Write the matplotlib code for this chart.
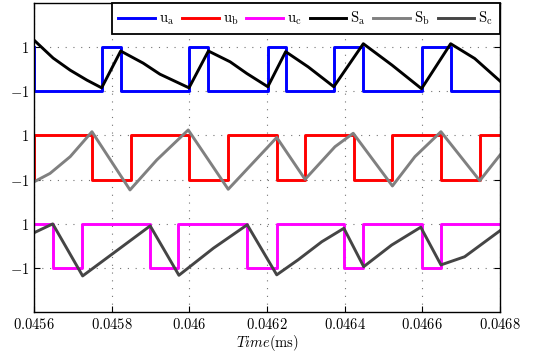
import numpy as np
import matplotlib
matplotlib.use('Agg')
import matplotlib.pyplot as plt
from matplotlib.ticker import MultipleLocator, FuncFormatter

plt.rcParams['font.size'] = 10
plt.rcParams['mathtext.fontset'] = 'cm'
plt.rcParams['font.family'] = 'serif'

t_start, t_end = 0.0456, 0.0468

# switching instants (ms) of the square waves and their starting level
ua_start = 1
ua_edges = [0.0456, 0.045774, 0.045823, 0.045999, 0.046048, 0.046202,
            0.046248, 0.046372, 0.046448, 0.046598, 0.046673]
ub_start = -1
ub_edges = [0.0456, 0.045749, 0.045849, 0.045999, 0.046099, 0.046225,
            0.046298, 0.046424, 0.046523, 0.046648, 0.046748]
uc_start = 1
uc_edges = [0.045648, 0.045723, 0.045899, 0.045971, 0.046149, 0.046225,
            0.046398, 0.046448, 0.046598, 0.046648]

# S signals
sa_t = [0.0456, 0.045649, 0.045693, 0.045736, 0.045774, 0.045823, 0.045881,
        0.045924, 0.045999, 0.046049, 0.046105, 0.046148, 0.046202, 0.046248,
        0.046306, 0.046372, 0.046448, 0.046522, 0.046598, 0.046673, 0.046735,
        0.0468]
sa_v = [1.32, 0.51, -0.04, -0.49, -0.84, 0.83, 0.28, -0.22, -0.84, 0.83, 0.34,
        -0.19, -0.79, 0.80, 0.11, -0.79, 1.16, 0.19, -0.88, 1.16, 0.49, -0.53]

sb_t = [0.0456, 0.045641, 0.045693, 0.045749, 0.045847, 0.045916, 0.045997,
        0.046100, 0.046207, 0.046225, 0.046298, 0.046375, 0.046422, 0.046523,
        0.046581, 0.046648, 0.046748, 0.0468]
sb_v = [-1.10, -0.72, 0.04, 1.17, -1.47, -0.11, 1.25, -1.44, 0.57, 0.91,
        -0.99, 0.49, 1.10, -1.29, 0.04, 1.17, -1.05, 0.11]

sc_t = [0.0456, 0.045648, 0.045725, 0.045804, 0.045899, 0.045973, 0.046062,
        0.046149, 0.046225, 0.046280, 0.046341, 0.046398, 0.046449, 0.046521,
        0.046596, 0.046648, 0.046709, 0.0468]
sc_v = [0.59, 0.99, -1.37, -0.34, 0.90, -1.34, -0.11, 0.95, -1.32, -0.64,
        0.18, 0.79, -0.95, 0.03, 0.84, -0.87, -0.50, 0.68]

offsets = {'a': 4, 'b': 0, 'c': -4}


def square(start, edges):
    t = np.r_[t_start, edges, t_end]
    lv = start * (-1.0) ** np.arange(len(edges) + 1)
    lv = np.r_[lv, lv[-1]]
    return t, lv


fig = plt.figure(figsize=(5.33, 3.52), dpi=100)
ax = fig.add_axes([0.064, 0.114, 0.874, 0.877])

lw = 2.1
t, v = square(ua_start, ua_edges)
ax.step(t, v + offsets['a'], where='post', color='#0000ff', lw=lw, label=r'$\mathrm{u}_\mathrm{a}$')
t, v = square(ub_start, ub_edges)
ax.step(t, v + offsets['b'], where='post', color='#ff0000', lw=lw, label=r'$\mathrm{u}_\mathrm{b}$')
t, v = square(uc_start, uc_edges)
ax.step(t, v + offsets['c'], where='post', color='#ff00ff', lw=lw, label=r'$\mathrm{u}_\mathrm{c}$')

ax.plot(sa_t, np.array(sa_v) + offsets['a'], color='k', lw=lw, label=r'$\mathrm{S}_\mathrm{a}$')
ax.plot(sb_t, np.array(sb_v) + offsets['b'], color='#808080', lw=lw, label=r'$\mathrm{S}_\mathrm{b}$')
ax.plot(sc_t, np.array(sc_v) + offsets['c'], color='#454545', lw=lw, label=r'$\mathrm{S}_\mathrm{c}$')

ax.set_xlim(t_start, t_end)
ax.set_ylim(-7, 7)
ax.xaxis.set_major_locator(MultipleLocator(0.0002))
ax.xaxis.set_major_formatter(FuncFormatter(lambda x, p: '$%g$' % round(x, 6)))
ax.set_yticks([-5, -3, -1, 1, 3, 5])
ax.set_yticklabels(['$-1$', '$1$', '$-1$', '$1$', '$-1$', '$1$'])
ax.tick_params(direction='in', top=True, right=True, length=4, width=0.8, labelsize=10.5)
for s in ax.spines.values():
    s.set_linewidth(1.0)
ax.grid(True, color='0.45', linestyle=(0, (1, 6)), lw=0.8)
ax.set_xlabel(r'$Time\mathrm{(ms)}$', labelpad=1, fontsize=10.5)

leg = ax.legend(ncol=6, loc='upper right', borderaxespad=0, fancybox=False,
                edgecolor='k', framealpha=1, handlelength=2.5, handletextpad=0.3,
                columnspacing=0.5, borderpad=0.45, fontsize=10.5)
leg.get_frame().set_linewidth(1.3)

plt.savefig('out.png', dpi=100)
